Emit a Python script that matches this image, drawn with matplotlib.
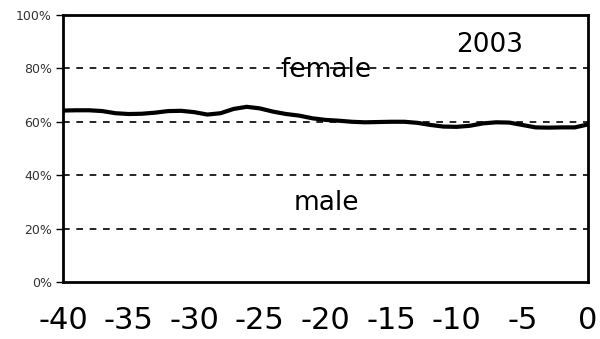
import numpy as np
import matplotlib.pyplot as plt
from matplotlib.ticker import PercentFormatter

plt.rcParams['axes.unicode_minus'] = False

# years before 2003 and share of female (percent)
years = list(range(-40, 1))
female_share = [64.2, 64.3, 64.3, 64.0, 63.2, 62.9, 63.0, 63.4, 64.0, 64.1,
                63.6, 62.7, 63.2, 64.8, 65.6, 65.0, 63.8, 62.9, 62.3, 61.3,
                60.7, 60.4, 60.0, 59.8, 59.9, 60.0, 60.0, 59.6, 58.8, 58.2,
                58.1, 58.5, 59.4, 59.8, 59.7, 58.8, 57.9, 57.8, 57.9, 57.9,
                59.0]
xticks = [-40, -35, -30, -25, -20, -15, -10, -5, 0]
yticks = [0, 20, 40, 60, 80, 100]

fig = plt.figure(figsize=(6, 3.39), dpi=100)
ax = fig.add_axes([0.105, 0.168, 0.875, 0.788])

for y in yticks[1:-1]:
    ax.axhline(y, color='k', lw=1.2, ls=(0, (4, 4)), zorder=1)

ax.plot(years, female_share, color='k', lw=3, solid_capstyle='round', zorder=3)

ax.set_xlim(-40, 0)
ax.set_ylim(0, 100)
ax.set_xticks(xticks)
ax.set_yticks(yticks)
ax.yaxis.set_major_formatter(PercentFormatter(decimals=0))
ax.tick_params(axis='x', length=0, pad=17, labelsize=22)
ax.tick_params(axis='y', length=5, width=1, pad=3, labelsize=9, labelcolor='#333333')
for s in ax.spines.values():
    s.set_linewidth(2)

ax.text(-7.5, 88.8, '2003', ha='center', va='center', fontsize=19)
ax.text(-20, 79.4, 'female', ha='center', va='center', fontsize=19)
ax.text(-19.9, 29.6, 'male', ha='center', va='center', fontsize=19)

fig.savefig('out.png', dpi=100)
